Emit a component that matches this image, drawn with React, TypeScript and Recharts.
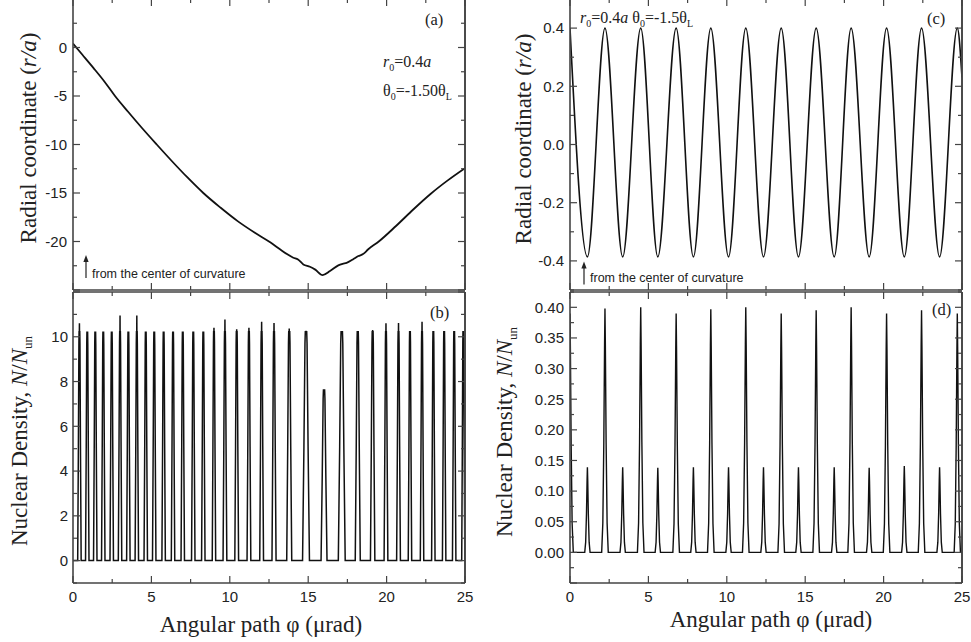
import React from 'react';
import { LineChart, Line, XAxis, YAxis } from 'recharts';

const SANS = "'Liberation Sans', Arial, Helvetica, sans-serif";
const SERIF = "'Liberation Serif', 'Times New Roman', Times, serif";
const FRAME = '#444';
const INK = '#111';
const TXT = '#222';

// ---------- shared x axis ----------
const xTicksAll = [0, 2.5, 5, 7.5, 10, 12.5, 15, 17.5, 20, 22.5, 25];
const xMajor = [0, 5, 10, 15, 20, 25];

// ---------- panel (a): radial coordinate ----------
const aPhi = [0, 0.6, 1.3, 2.0, 2.68, 3.5, 4.4, 5.34, 6.3, 7.3, 8.31, 9.4, 10.5, 11.6, 12.6, 13.2, 13.7, 14.05, 14.35, 14.69, 15.11, 15.45, 15.92, 16.39, 16.92, 17.2, 17.45, 17.85, 18.2, 18.5, 18.83, 19.5, 20.6, 21.7, 22.8, 23.9, 25];
const aR = [0.4, -0.75, -2.1, -3.5, -5.0, -6.6, -8.3, -10.0, -11.7, -13.4, -15.0, -16.5, -17.9, -19.1, -20.1, -20.8, -21.35, -21.67, -21.85, -22.36, -22.6, -22.9, -23.46, -23.05, -22.46, -22.3, -22.2, -21.85, -21.5, -21.3, -20.8, -20.0, -18.4, -16.7, -15.1, -13.7, -12.44];
const aYTicks = [-25, -22.5, -20, -17.5, -15, -12.5, -10, -7.5, -5, -2.5, 0, 2.5, 5];
const aYMajor = [-25, -20, -15, -10, -5, 0, 5];
const aYLabeled = [-20, -15, -10, -5, 0];

// ---------- panel (b): nuclear density peaks ----------
const bPeakPhi = [0.41, 0.91, 1.42, 1.93, 2.47, 3.0, 3.53, 4.07, 4.64, 5.18, 5.78, 6.38, 7.0, 7.67, 8.31, 8.99, 9.69, 10.44, 11.22, 12.03, 12.82, 13.79, 14.86, 16.01, 17.14, 18.16, 19.11, 19.96, 20.76, 21.49, 22.26, 22.98, 23.67, 24.31, 24.89];
const bPeakTip = [10.6, 10.2, 10.2, 10.2, 10.2, 10.95, 10.2, 10.95, 10.2, 10.2, 10.2, 10.2, 10.2, 10.2, 10.2, 10.4, 10.77, 10.33, 10.4, 10.67, 10.62, 10.37, 10.27, 7.62, 10.25, 10.25, 10.3, 10.6, 10.62, 10.25, 10.67, 10.25, 10.25, 10.25, 10.25];
const bPeakHalfWidth = [0.11, 0.11, 0.11, 0.11, 0.11, 0.11, 0.11, 0.11, 0.11, 0.11, 0.11, 0.11, 0.11, 0.11, 0.11, 0.11, 0.12, 0.12, 0.12, 0.12, 0.13, 0.16, 0.22, 0.19, 0.22, 0.16, 0.14, 0.12, 0.12, 0.11, 0.11, 0.11, 0.11, 0.11, 0.1];
const B_PLATEAU = 10.22;
const bYTicks = [-1, 0, 1, 2, 3, 4, 5, 6, 7, 8, 9, 10, 11, 12];
const bYMajor = [0, 2, 4, 6, 8, 10, 12];
const bYLabeled = [0, 2, 4, 6, 8, 10];

// ---------- panel (c): radial coordinate (extrema) ----------
const cPhi = [0, 1.11, 2.23, 3.36, 4.51, 5.6, 6.77, 7.87, 8.98, 10.11, 11.21, 12.34, 13.47, 14.57, 15.7, 16.85, 17.93, 19.08, 20.19, 21.32, 22.42, 23.57, 24.7, 25];
const cR = [0.4, -0.386, 0.4, -0.386, 0.4, -0.386, 0.4, -0.386, 0.4, -0.386, 0.4, -0.386, 0.4, -0.386, 0.4, -0.386, 0.4, -0.386, 0.4, -0.386, 0.4, -0.386, 0.4, 0.23];
const cYTicks = [-0.5, -0.4, -0.3, -0.2, -0.1, 0, 0.1, 0.2, 0.3, 0.4, 0.5];
const cYMajor = [-0.4, -0.2, 0, 0.2, 0.4];
const cYLabeled = [-0.4, -0.2, 0, 0.2, 0.4];

// ---------- panel (d): nuclear density peaks ----------
const dStartHeight = 0.39;
const dPeakPhi = [1.11, 2.23, 3.36, 4.51, 5.6, 6.77, 7.87, 8.98, 10.11, 11.21, 12.34, 13.47, 14.57, 15.7, 16.85, 17.93, 19.08, 20.19, 21.32, 22.42, 23.57, 24.7];
const dPeakHeight = [0.139, 0.398, 0.139, 0.4, 0.138, 0.39, 0.139, 0.397, 0.139, 0.4, 0.139, 0.39, 0.139, 0.395, 0.139, 0.4, 0.138, 0.39, 0.141, 0.395, 0.139, 0.39];
const dPeakHalfWidth = [0.17, 0.21, 0.17, 0.21, 0.17, 0.21, 0.17, 0.21, 0.17, 0.21, 0.17, 0.21, 0.17, 0.21, 0.17, 0.21, 0.17, 0.21, 0.17, 0.21, 0.17, 0.2];
const dYTicks = [-0.05, -0.025, 0, 0.025, 0.05, 0.075, 0.1, 0.125, 0.15, 0.175, 0.2, 0.225, 0.25, 0.275, 0.3, 0.325, 0.35, 0.375, 0.4, 0.425];
const dYMajor = [-0.05, 0, 0.05, 0.1, 0.15, 0.2, 0.25, 0.3, 0.35, 0.4];
const dYLabeled = [0, 0.05, 0.1, 0.15, 0.2, 0.25, 0.3, 0.35, 0.4];

type Pt = { x: number; y: number };

const aData: Pt[] = aPhi.map((x, i) => ({ x, y: aR[i] }));
const cData: Pt[] = cPhi.map((x, i) => ({ x, y: cR[i] }));

// peak outline (fractions of half-width) used to draw each read peak
const bProfX = [-1, -0.6, -0.3, -0.2, -0.04, 0, 0.04, 0.2, 0.3, 0.6, 1];

function buildB(): Pt[] {
  const pts: Pt[] = [{ x: 0, y: 0 }];
  bPeakPhi.forEach((c, i) => {
    const w = bPeakHalfWidth[i];
    const tip = bPeakTip[i];
    const p = Math.min(tip, B_PLATEAU);
    const ys = [0, 0.5 * p, 0.95 * p, p, p, tip, p, p, 0.95 * p, 0.5 * p, 0];
    bProfX.forEach((f, k) => pts.push({ x: c + f * w, y: ys[k] }));
  });
  pts.push({ x: 25, y: 0 });
  return pts;
}

const dProfX = [-1, -0.65, -0.35, -0.12, 0, 0.12, 0.35, 0.65, 1];
const dProfY = [0, 0.12, 0.45, 0.85, 1, 0.85, 0.45, 0.12, 0];

function buildD(): Pt[] {
  const pts: Pt[] = [];
  const w0 = 0.21;
  for (let k = 4; k < dProfX.length; k++) pts.push({ x: dProfX[k] * w0, y: dProfY[k] * dStartHeight });
  dPeakPhi.forEach((c, i) => {
    const w = dPeakHalfWidth[i];
    const h = dPeakHeight[i];
    for (let k = 0; k < dProfX.length; k++) pts.push({ x: c + dProfX[k] * w, y: dProfY[k] * h });
  });
  pts.push({ x: 25, y: 0 });
  return pts;
}

const bData = buildB();
const dData = buildD();

const isIn = (arr: number[], v: number) => arr.some((a) => Math.abs(a - v) < 1e-9);
const MAJOR_LEN = 7;
const MINOR_LEN = 4;
const TICK_STYLE = { stroke: FRAME, strokeWidth: 1.2 };

function bottomTick(major: number[], labeled: number[], margin: number) {
  return (props: any) => {
    const { x, y, payload } = props;
    const v = payload.value as number;
    const len = isIn(major, v) ? MAJOR_LEN : MINOR_LEN;
    const ay = y - margin;
    return (
      <g>
        <line x1={x} y1={ay} x2={x} y2={ay - len} {...TICK_STYLE} />
        {isIn(labeled, v) ? (
          <text x={x} y={y} dy="0.71em" textAnchor="middle" fontFamily={SANS} fontSize={15} fill={TXT}>
            {String(v)}
          </text>
        ) : null}
      </g>
    );
  };
}

function topTick(major: number[]) {
  return (props: any) => {
    const { x, y, payload } = props;
    const len = isIn(major, payload.value) ? MAJOR_LEN : MINOR_LEN;
    return <line x1={x} y1={y} x2={x} y2={y + len} {...TICK_STYLE} />;
  };
}

function leftTick(major: number[], labeled: number[], fmt: (v: number) => string, margin: number) {
  return (props: any) => {
    const { x, y, payload } = props;
    const v = payload.value as number;
    const len = isIn(major, v) ? MAJOR_LEN : MINOR_LEN;
    const ax = x + margin;
    return (
      <g>
        <line x1={ax} y1={y} x2={ax + len} y2={y} {...TICK_STYLE} />
        {isIn(labeled, v) ? (
          <text x={x} y={y} dy="0.355em" textAnchor="end" fontFamily={SANS} fontSize={15} fill={TXT}>
            {fmt(v)}
          </text>
        ) : null}
      </g>
    );
  };
}

function rightTick(major: number[]) {
  return (props: any) => {
    const { x, y, payload } = props;
    const len = isIn(major, payload.value) ? MAJOR_LEN : MINOR_LEN;
    return <line x1={x} y1={y} x2={x - len} y2={y} {...TICK_STYLE} />;
  };
}

type PanelProps = {
  left: number;
  top: number;
  w: number;
  h: number;
  data: Pt[];
  yDomain: [number, number];
  yTicks: number[];
  yMajor: number[];
  yLabeled: number[];
  yFmt: (v: number) => string;
  yMargin: number;
  xLabels: boolean;
  curve: 'linear' | 'monotone';
  strokeWidth: number;
};

const AXW = 60;
const RW = 10;
const PADT = 10;
const PADB = 10;
const TOPH = 10;

function Panel(p: PanelProps) {
  const bottomH = p.xLabels ? 30 : 10;
  const axisLine = { stroke: FRAME, strokeWidth: 1.6 };
  return (
    <div style={{ position: 'absolute', left: p.left - AXW, top: p.top - PADT - TOPH }}>
      <LineChart
        width={AXW + p.w + RW}
        height={PADT + TOPH + p.h + bottomH + PADB}
        data={p.data}
        margin={{ top: PADT, right: 0, bottom: PADB, left: 0 }}
      >
        <XAxis
          xAxisId="b"
          orientation="bottom"
          dataKey="x"
          type="number"
          domain={[0, 25]}
          allowDataOverflow
          ticks={xTicksAll}
          interval={0}
          tickSize={0}
          tickMargin={8}
          height={bottomH}
          axisLine={axisLine}
          tickLine={false}
          tick={bottomTick(xMajor, p.xLabels ? xMajor : [], 8)}
        />
        <XAxis
          xAxisId="t"
          orientation="top"
          dataKey="x"
          type="number"
          domain={[0, 25]}
          allowDataOverflow
          ticks={xTicksAll}
          interval={0}
          tickSize={0}
          tickMargin={0}
          height={TOPH}
          axisLine={axisLine}
          tickLine={false}
          tick={topTick(xMajor)}
        />
        <YAxis
          yAxisId="l"
          orientation="left"
          type="number"
          domain={p.yDomain}
          allowDataOverflow
          ticks={p.yTicks}
          interval={0}
          tickSize={0}
          tickMargin={p.yMargin}
          width={AXW}
          axisLine={axisLine}
          tickLine={false}
          tick={leftTick(p.yMajor, p.yLabeled, p.yFmt, p.yMargin)}
        />
        <YAxis
          yAxisId="r"
          orientation="right"
          type="number"
          domain={p.yDomain}
          allowDataOverflow
          ticks={p.yTicks}
          interval={0}
          tickSize={0}
          tickMargin={0}
          width={RW}
          stroke={FRAME}
          axisLine={axisLine}
          tickLine={false}
          tick={rightTick(p.yMajor)}
        />
        <Line
          xAxisId="t"
          yAxisId="r"
          type="linear"
          dataKey="y"
          stroke="#fff"
          strokeOpacity={0}
          dot={false}
          activeDot={false}
          legendType="none"
          isAnimationActive={false}
        />
        <Line
          xAxisId="b"
          yAxisId="l"
          type={p.curve}
          dataKey="y"
          stroke={INK}
          strokeWidth={p.strokeWidth}
          dot={false}
          activeDot={false}
          isAnimationActive={false}
        />
      </LineChart>
    </div>
  );
}

function Arrow({ x, y1, y2 }: { x: number; y1: number; y2: number }) {
  return (
    <g>
      <line x1={x} y1={y1} x2={x} y2={y2 + 5} stroke={TXT} strokeWidth={1.2} />
      <polygon points={`${x},${y2} ${x - 2.6},${y2 + 7} ${x + 2.6},${y2 + 7}`} fill={TXT} />
    </g>
  );
}

export default function App() {
  const LEFT_X = 73;
  const RIGHT_X = 570;
  const PW = 392;
  const TOP_Y = -1;
  const BOT_Y = 292;
  const PH = 291;
  return (
    <div style={{ position: 'absolute', left: 0, top: 0, width: 971, height: 642, background: '#fff' }}>
      <Panel
        left={LEFT_X}
        top={TOP_Y}
        w={PW}
        h={PH}
        data={aData}
        yDomain={[-25, 5]}
        yTicks={aYTicks}
        yMajor={aYMajor}
        yLabeled={aYLabeled}
        yFmt={(v) => String(v)}
        yMargin={6}
        xLabels={false}
        curve="monotone"
        strokeWidth={1.8}
      />
      <Panel
        left={LEFT_X}
        top={BOT_Y}
        w={PW}
        h={PH}
        data={bData}
        yDomain={[-1, 12]}
        yTicks={bYTicks}
        yMajor={bYMajor}
        yLabeled={bYLabeled}
        yFmt={(v) => String(v)}
        yMargin={5}
        xLabels={true}
        curve="linear"
        strokeWidth={1.5}
      />
      <Panel
        left={RIGHT_X}
        top={TOP_Y}
        w={PW}
        h={PH}
        data={cData}
        yDomain={[-0.5, 0.5]}
        yTicks={cYTicks}
        yMajor={cYMajor}
        yLabeled={cYLabeled}
        yFmt={(v) => v.toFixed(1)}
        yMargin={6}
        xLabels={false}
        curve="monotone"
        strokeWidth={1.6}
      />
      <Panel
        left={RIGHT_X}
        top={BOT_Y}
        w={PW}
        h={PH}
        data={dData}
        yDomain={[-0.05, 0.425]}
        yTicks={dYTicks}
        yMajor={dYMajor}
        yLabeled={dYLabeled}
        yFmt={(v) => v.toFixed(2)}
        yMargin={6}
        xLabels={true}
        curve="linear"
        strokeWidth={1.4}
      />

      <svg width={971} height={642} style={{ position: 'absolute', left: 0, top: 0, pointerEvents: 'none' }}>
        {/* right edges of the four panel frames */}
        <line x1={LEFT_X + PW} y1={TOP_Y} x2={LEFT_X + PW} y2={TOP_Y + PH} stroke={FRAME} strokeWidth={1.6} />
        <line x1={LEFT_X + PW} y1={BOT_Y} x2={LEFT_X + PW} y2={BOT_Y + PH} stroke={FRAME} strokeWidth={1.6} />
        <line x1={RIGHT_X + PW} y1={TOP_Y} x2={RIGHT_X + PW} y2={TOP_Y + PH} stroke={FRAME} strokeWidth={1.6} />
        <line x1={RIGHT_X + PW} y1={BOT_Y} x2={RIGHT_X + PW} y2={BOT_Y + PH} stroke={FRAME} strokeWidth={1.6} />

        {/* axis titles */}
        <text transform="rotate(-90 35.5 138)" x={35.5} y={138} textAnchor="middle" fontFamily={SERIF} fontSize={23} fill={TXT}>
          Radial coordinate (<tspan fontStyle="italic">r/a</tspan>)
        </text>
        <text transform="rotate(-90 27 441)" x={27} y={441} textAnchor="middle" fontFamily={SERIF} fontSize={23} fill={TXT}>
          Nuclear Density, <tspan fontStyle="italic">N</tspan>/<tspan fontStyle="italic">N</tspan>
          <tspan dy={5} fontSize={13}>un</tspan>
        </text>
        <text transform="rotate(-90 531 139)" x={531} y={139} textAnchor="middle" fontFamily={SERIF} fontSize={23} fill={TXT}>
          Radial coordinate (<tspan fontStyle="italic">r/a</tspan>)
        </text>
        <text transform="rotate(-90 512 432)" x={512} y={432} textAnchor="middle" fontFamily={SERIF} fontSize={23} fill={TXT}>
          Nuclear Density, <tspan fontStyle="italic">N</tspan>/<tspan fontStyle="italic">N</tspan>
          <tspan dy={5} fontSize={13}>un</tspan>
        </text>
        <text x={261} y={632} textAnchor="middle" fontFamily={SERIF} fontSize={23} fill={TXT}>
          Angular path φ (μrad)
        </text>
        <text x={771} y={627} textAnchor="middle" fontFamily={SERIF} fontSize={23} fill={TXT}>
          Angular path φ (μrad)
        </text>

        {/* panel labels */}
        <text x={425} y={25} fontFamily={SERIF} fontSize={16.5} fill={TXT}>(a)</text>
        <text x={430} y={318} fontFamily={SERIF} fontSize={16.5} fill={TXT}>(b)</text>
        <text x={927} y={23.5} fontFamily={SERIF} fontSize={16.5} fill={TXT}>(c)</text>
        <text x={932} y={315} fontFamily={SERIF} fontSize={16.5} fill={TXT}>(d)</text>

        {/* parameters */}
        <text x={383} y={67} fontFamily={SERIF} fontSize={16} fill={TXT}>
          <tspan fontStyle="italic">r</tspan>
          <tspan dy={4} fontSize={10}>0</tspan>
          <tspan dy={-4}>=0.4</tspan>
          <tspan fontStyle="italic">a</tspan>
        </text>
        <text x={383} y={96} fontFamily={SERIF} fontSize={16} fill={TXT}>
          <tspan>θ</tspan>
          <tspan dy={4} fontSize={10}>0</tspan>
          <tspan dy={-4}>=-1.50θ</tspan>
          <tspan dy={4} fontSize={10}>L</tspan>
        </text>
        <text x={580} y={23} fontFamily={SERIF} fontSize={16} fill={TXT}>
          <tspan fontStyle="italic">r</tspan>
          <tspan dy={4} fontSize={10}>0</tspan>
          <tspan dy={-4}>=0.4</tspan>
          <tspan fontStyle="italic">a</tspan>
          <tspan> θ</tspan>
          <tspan dy={4} fontSize={10}>0</tspan>
          <tspan dy={-4}>=-1.5θ</tspan>
          <tspan dy={4} fontSize={10}>L</tspan>
        </text>

        {/* arrows */}
        <Arrow x={86} y1={278} y2={255} />
        <text x={92} y={278} fontFamily={SANS} fontSize={12.5} fill={TXT}>from the center of curvature</text>
        <Arrow x={584} y1={284.5} y2={261.5} />
        <text x={590} y={281.5} fontFamily={SANS} fontSize={12.5} fill={TXT}>from the center of curvature</text>
      </svg>
    </div>
  );
}
